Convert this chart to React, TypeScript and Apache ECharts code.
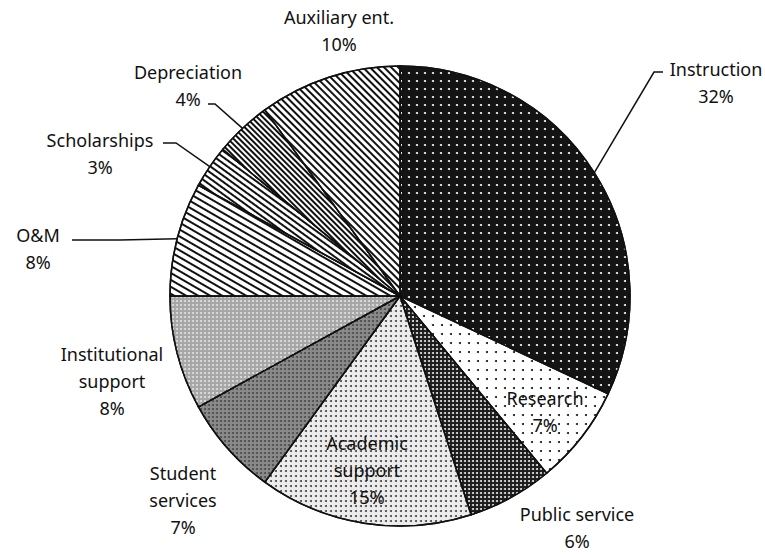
import React, { useEffect, useRef } from 'react';
import * as echarts from 'echarts';

const categories = [
  'Instruction',
  'Research',
  'Public service',
  'Academic\nsupport',
  'Student\nservices',
  'Institutional\nsupport',
  'O&M',
  'Scholarships',
  'Depreciation',
  'Auxiliary ent.',
];
const values = [32, 7, 6, 15, 7, 8, 8, 3, 4, 10];

// label block centres (layout only)
const labelCenters: number[][] = [
  [716, 82], [545, 411], [577, 527], [367, 470], [183, 500],
  [112, 381], [38, 248], [100, 153], [188, 85], [339, 30],
];
// leader line bend + end points (layout only)
const leaderBends: (number[][] | null)[] = [
  [[654, 72], [663, 72]], null, null, null, null, null,
  [[120, 240], [72, 240]], [[176, 143], [163, 143]], [[215, 104], [208, 104]], null,
];

const stripes = (rot: number, w: number, gap: number) => ({
  symbol: 'rect', symbolSize: 1, color: '#111', dashArrayX: [1, 0], dashArrayY: [w, gap], rotation: rot,
});
const dots = (color: string, size: number, gap: number) => ({
  symbol: 'circle', symbolSize: 1, color, dashArrayX: [size, gap], dashArrayY: [size, gap],
});

const fills: { color: string; decal: any }[] = [
  { color: '#141414', decal: dots('#ffffff', 2, 6) },
  { color: '#ffffff', decal: dots('#111111', 2, 7) },
  { color: '#1c1c1c', decal: dots('#e8e8e8', 2, 2) },
  { color: '#ececec', decal: dots('#444444', 1.6, 2.4) },
  { color: '#8a8a8a', decal: dots('#4a4a4a', 2, 2) },
  { color: '#a6a6a6', decal: dots('#e0e0e0', 2, 2) },
  { color: '#ffffff', decal: stripes(Math.PI / 6, 2, 3.5) },
  { color: '#ffffff', decal: stripes(Math.PI / 5, 2, 3) },
  { color: '#ffffff', decal: stripes(Math.PI / 4, 2, 2) },
  { color: '#ffffff', decal: stripes(Math.PI / 4, 2, 3) },
];

export default function App() {
  const ref = useRef<HTMLDivElement>(null);
  useEffect(() => {
    if (!ref.current) return;
    const chart = echarts.init(ref.current, undefined, { renderer: 'svg' });
    chart.setOption({
      animation: false,
      backgroundColor: '#ffffff',
      series: [
        {
          type: 'pie',
          center: [400, 296],
          radius: 230,
          startAngle: 90,
          clockwise: true,
          avoidLabelOverlap: false,
          itemStyle: { borderColor: '#111', borderWidth: 1.5 },
          label: {
            show: true,
            position: 'outside',
            formatter: '{b}\n{c}%',
            fontFamily: 'Noto Sans',
            fontSize: 18,
            lineHeight: 27,
            color: '#111',
            align: 'center',
          },
          labelLine: { show: true, lineStyle: { color: '#111', width: 1.5 } },
          labelLayout: (params: any) => {
            const i = params.dataIndex;
            const c = labelCenters[i];
            const res: any = { x: c[0], y: c[1], align: 'center', verticalAlign: 'middle' };
            const b = leaderBends[i];
            if (b && params.labelLinePoints) {
              res.labelLinePoints = [params.labelLinePoints[0], b[0], b[1]];
            }
            return res;
          },
          data: categories.map((name, i) => ({
            name,
            value: values[i],
            itemStyle: { color: fills[i].color, decal: fills[i].decal },
            labelLine: { show: !!leaderBends[i] },
          })),
        },
      ],
    });
    return () => chart.dispose();
  }, []);
  return (
    <div
      ref={ref}
      style={{ position: 'fixed', left: 0, top: 0, width: 765, height: 554 }}
    />
  );
}
